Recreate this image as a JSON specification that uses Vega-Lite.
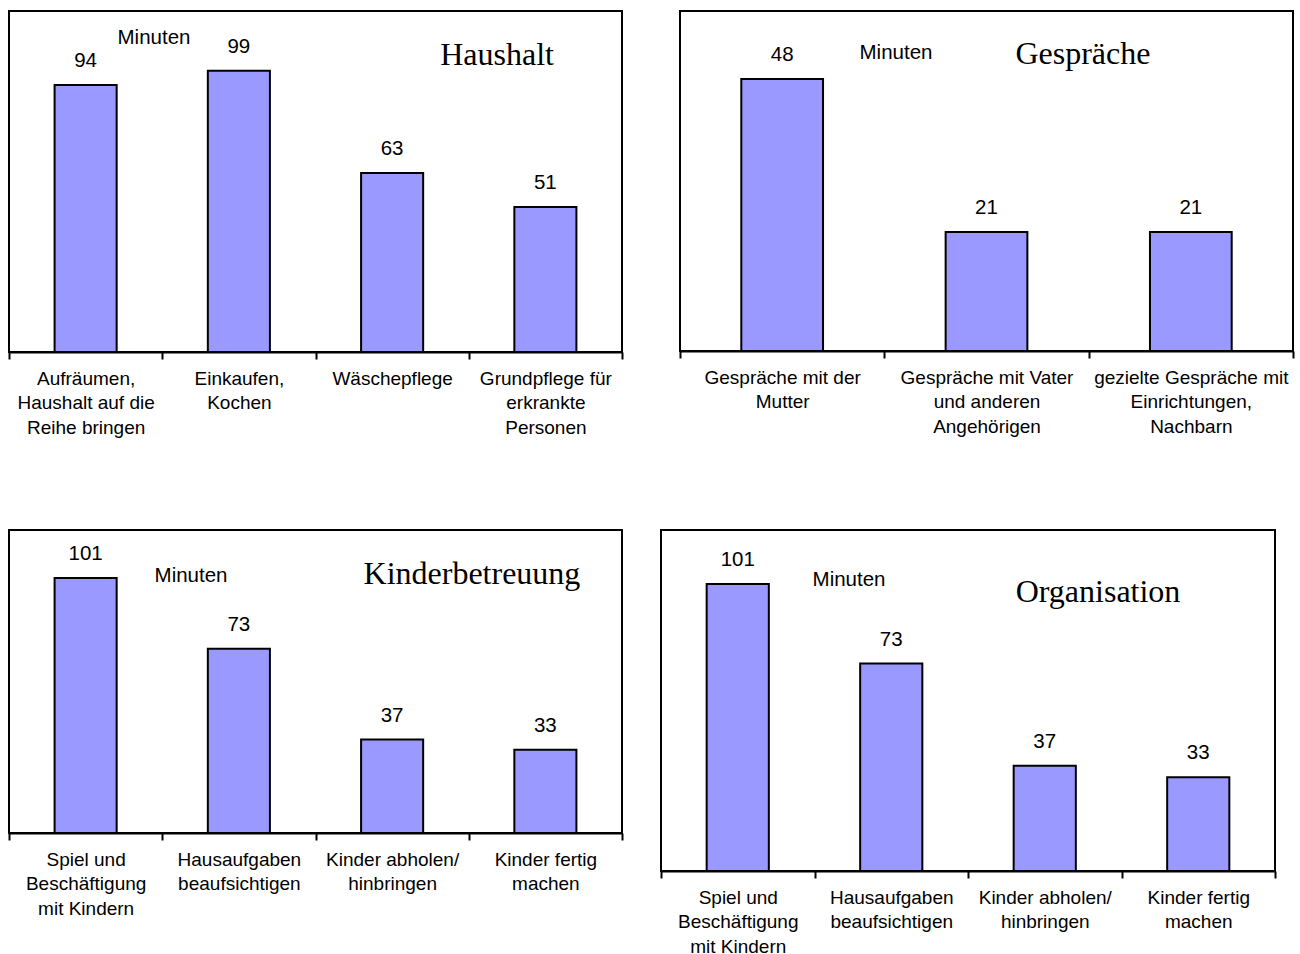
{
  "$schema": "https://vega.github.io/schema/vega-lite/v6.json",
  "background": "white",
  "padding": {"left": 7, "top": 10, "right": 0, "bottom": 0},
  "config": {
    "view": {"stroke": "black", "strokeWidth": 2},
    "text": {"font": "Liberation Sans", "color": "black"}
  },
  "datasets": {
    "haushalt": [
      {"kategorie": "Aufräumen,|Haushalt auf die|Reihe bringen", "minuten": 94},
      {"kategorie": "Einkaufen,|Kochen", "minuten": 99},
      {"kategorie": "Wäschepflege", "minuten": 63},
      {"kategorie": "Grundpflege für|erkrankte|Personen", "minuten": 51}
    ],
    "gespraeche": [
      {"kategorie": "Gespräche mit der|Mutter", "minuten": 48},
      {"kategorie": "Gespräche mit Vater|und anderen|Angehörigen", "minuten": 21},
      {"kategorie": "gezielte Gespräche mit|Einrichtungen,|Nachbarn", "minuten": 21}
    ],
    "kinder": [
      {"kategorie": "Spiel und|Beschäftigung|mit Kindern", "minuten": 101},
      {"kategorie": "Hausaufgaben|beaufsichtigen", "minuten": 73},
      {"kategorie": "Kinder abholen/|hinbringen", "minuten": 37},
      {"kategorie": "Kinder fertig|machen", "minuten": 33}
    ],
    "organisation": [
      {"kategorie": "Spiel und|Beschäftigung|mit Kindern", "minuten": 101},
      {"kategorie": "Hausaufgaben|beaufsichtigen", "minuten": 73},
      {"kategorie": "Kinder abholen/|hinbringen", "minuten": 37},
      {"kategorie": "Kinder fertig|machen", "minuten": 33}
    ]
  },
  "vconcat": [
    {
      "spacing": 54,
      "hconcat": [
        {
          "width": 613, "height": 341,
          "layer": [
            {
              "data": {"name": "haushalt"},
              "encoding": {
                "x": {"field": "kategorie", "type": "nominal", "sort": null, "title": null,
                  "scale": {"paddingInner": 0, "paddingOuter": 0},
                  "axis": {"labelExpr": "split(datum.label, '|')", "labelAngle": 0, "labelFont": "Liberation Sans", "labelFontSize": 19, "labelColor": "black", "labelLineHeight": 24.5, "labelPadding": 10, "labelLimit": 0, "labelOverlap": false, "tickBand": "extent", "tickSize": 7, "tickWidth": 2, "tickColor": "black", "domainColor": "black", "domainWidth": 2}},
                "y": {"field": "minuten", "type": "quantitative", "scale": {"domain": [0, 120], "nice": false}, "axis": null}
              },
              "layer": [
                {"mark": {"type": "bar", "fill": "#9999FF", "stroke": "black", "strokeWidth": 2, "width": {"band": 0.405}}},
                {"mark": {"type": "text", "dy": -24, "baseline": "middle", "fontSize": 20.5}, "encoding": {"text": {"field": "minuten", "type": "quantitative"}}}
              ]
            },
            {
              "data": {"values": [{"t": "Minuten", "px": 0.946, "py": 110.5}]},
              "mark": {"type": "text", "fontSize": 20.5, "baseline": "middle", "align": "center"},
              "encoding": {
                "x": {"field": "px", "type": "quantitative", "scale": {"domain": [0, 4], "nice": false, "zero": false}, "axis": null},
                "y": {"field": "py", "type": "quantitative", "scale": {"domain": [0, 120], "nice": false}, "axis": null},
                "text": {"field": "t"}
              }
            },
            {
              "data": {"values": [{"t": "Haushalt", "px": 3.185, "py": 104.5}]},
              "mark": {"type": "text", "font": "Liberation Serif", "fontSize": 32, "baseline": "middle", "align": "center"},
              "encoding": {
                "x": {"field": "px", "type": "quantitative", "scale": {"domain": [0, 4], "nice": false, "zero": false}, "axis": null},
                "y": {"field": "py", "type": "quantitative", "scale": {"domain": [0, 120], "nice": false}, "axis": null},
                "text": {"field": "t"}
              }
            }
          ],
          "resolve": {"scale": {"x": "independent"}}
        },
        {
          "width": 613, "height": 340,
          "layer": [
            {
              "data": {"name": "gespraeche"},
              "encoding": {
                "x": {"field": "kategorie", "type": "nominal", "sort": null, "title": null,
                  "scale": {"paddingInner": 0, "paddingOuter": 0},
                  "axis": {"labelExpr": "split(datum.label, '|')", "labelAngle": 0, "labelFont": "Liberation Sans", "labelFontSize": 19, "labelColor": "black", "labelLineHeight": 24.5, "labelPadding": 10, "labelLimit": 0, "labelOverlap": false, "tickBand": "extent", "tickSize": 7, "tickWidth": 2, "tickColor": "black", "domainColor": "black", "domainWidth": 2}},
                "y": {"field": "minuten", "type": "quantitative", "scale": {"domain": [0, 60], "nice": false}, "axis": null}
              },
              "layer": [
                {"mark": {"type": "bar", "fill": "#9999FF", "stroke": "black", "strokeWidth": 2, "width": {"band": 0.40}}},
                {"mark": {"type": "text", "dy": -24, "baseline": "middle", "fontSize": 20.5}, "encoding": {"text": {"field": "minuten", "type": "quantitative"}}}
              ]
            },
            {
              "data": {"values": [{"t": "Minuten", "px": 1.057, "py": 52.6}]},
              "mark": {"type": "text", "fontSize": 20.5, "baseline": "middle", "align": "center"},
              "encoding": {
                "x": {"field": "px", "type": "quantitative", "scale": {"domain": [0, 3], "nice": false, "zero": false}, "axis": null},
                "y": {"field": "py", "type": "quantitative", "scale": {"domain": [0, 60], "nice": false}, "axis": null},
                "text": {"field": "t"}
              }
            },
            {
              "data": {"values": [{"t": "Gespräche", "px": 1.972, "py": 52.4}]},
              "mark": {"type": "text", "font": "Liberation Serif", "fontSize": 32, "baseline": "middle", "align": "center"},
              "encoding": {
                "x": {"field": "px", "type": "quantitative", "scale": {"domain": [0, 3], "nice": false, "zero": false}, "axis": null},
                "y": {"field": "py", "type": "quantitative", "scale": {"domain": [0, 60], "nice": false}, "axis": null},
                "text": {"field": "t"}
              }
            }
          ],
          "resolve": {"scale": {"x": "independent"}}
        }
      ]
    },
    {
      "spacing": 35,
      "hconcat": [
        {
          "width": 613, "height": 303,
          "layer": [
            {
              "data": {"name": "kinder"},
              "encoding": {
                "x": {"field": "kategorie", "type": "nominal", "sort": null, "title": null,
                  "scale": {"paddingInner": 0, "paddingOuter": 0},
                  "axis": {"labelExpr": "split(datum.label, '|')", "labelAngle": 0, "labelFont": "Liberation Sans", "labelFontSize": 19, "labelColor": "black", "labelLineHeight": 24.5, "labelPadding": 10, "labelLimit": 0, "labelOverlap": false, "tickBand": "extent", "tickSize": 7, "tickWidth": 2, "tickColor": "black", "domainColor": "black", "domainWidth": 2}},
                "y": {"field": "minuten", "type": "quantitative", "scale": {"domain": [0, 120], "nice": false}, "axis": null}
              },
              "layer": [
                {"mark": {"type": "bar", "fill": "#9999FF", "stroke": "black", "strokeWidth": 2, "width": {"band": 0.405}}},
                {"mark": {"type": "text", "dy": -24, "baseline": "middle", "fontSize": 20.5}, "encoding": {"text": {"field": "minuten", "type": "quantitative"}}}
              ]
            },
            {
              "data": {"values": [{"t": "Minuten", "px": 1.188, "py": 101.8}]},
              "mark": {"type": "text", "fontSize": 20.5, "baseline": "middle", "align": "center"},
              "encoding": {
                "x": {"field": "px", "type": "quantitative", "scale": {"domain": [0, 4], "nice": false, "zero": false}, "axis": null},
                "y": {"field": "py", "type": "quantitative", "scale": {"domain": [0, 120], "nice": false}, "axis": null},
                "text": {"field": "t"}
              }
            },
            {
              "data": {"values": [{"t": "Kinderbetreuung", "px": 3.021, "py": 102.6}]},
              "mark": {"type": "text", "font": "Liberation Serif", "fontSize": 32, "baseline": "middle", "align": "center"},
              "encoding": {
                "x": {"field": "px", "type": "quantitative", "scale": {"domain": [0, 4], "nice": false, "zero": false}, "axis": null},
                "y": {"field": "py", "type": "quantitative", "scale": {"domain": [0, 120], "nice": false}, "axis": null},
                "text": {"field": "t"}
              }
            }
          ],
          "resolve": {"scale": {"x": "independent"}}
        },
        {
          "width": 614, "height": 341,
          "layer": [
            {
              "data": {"name": "organisation"},
              "encoding": {
                "x": {"field": "kategorie", "type": "nominal", "sort": null, "title": null,
                  "scale": {"paddingInner": 0, "paddingOuter": 0},
                  "axis": {"labelExpr": "split(datum.label, '|')", "labelAngle": 0, "labelFont": "Liberation Sans", "labelFontSize": 19, "labelColor": "black", "labelLineHeight": 24.5, "labelPadding": 10, "labelLimit": 0, "labelOverlap": false, "tickBand": "extent", "tickSize": 7, "tickWidth": 2, "tickColor": "black", "domainColor": "black", "domainWidth": 2}},
                "y": {"field": "minuten", "type": "quantitative", "scale": {"domain": [0, 120], "nice": false}, "axis": null}
              },
              "layer": [
                {"mark": {"type": "bar", "fill": "#9999FF", "stroke": "black", "strokeWidth": 2, "width": {"band": 0.405}}},
                {"mark": {"type": "text", "dy": -24, "baseline": "middle", "fontSize": 20.5}, "encoding": {"text": {"field": "minuten", "type": "quantitative"}}}
              ]
            },
            {
              "data": {"values": [{"t": "Minuten", "px": 1.225, "py": 102.4}]},
              "mark": {"type": "text", "fontSize": 20.5, "baseline": "middle", "align": "center"},
              "encoding": {
                "x": {"field": "px", "type": "quantitative", "scale": {"domain": [0, 4], "nice": false, "zero": false}, "axis": null},
                "y": {"field": "py", "type": "quantitative", "scale": {"domain": [0, 120], "nice": false}, "axis": null},
                "text": {"field": "t"}
              }
            },
            {
              "data": {"values": [{"t": "Organisation", "px": 2.847, "py": 98.2}]},
              "mark": {"type": "text", "font": "Liberation Serif", "fontSize": 32, "baseline": "middle", "align": "center"},
              "encoding": {
                "x": {"field": "px", "type": "quantitative", "scale": {"domain": [0, 4], "nice": false, "zero": false}, "axis": null},
                "y": {"field": "py", "type": "quantitative", "scale": {"domain": [0, 120], "nice": false}, "axis": null},
                "text": {"field": "t"}
              }
            }
          ],
          "resolve": {"scale": {"x": "independent"}}
        }
      ]
    }
  ],
  "spacing": 91
}
